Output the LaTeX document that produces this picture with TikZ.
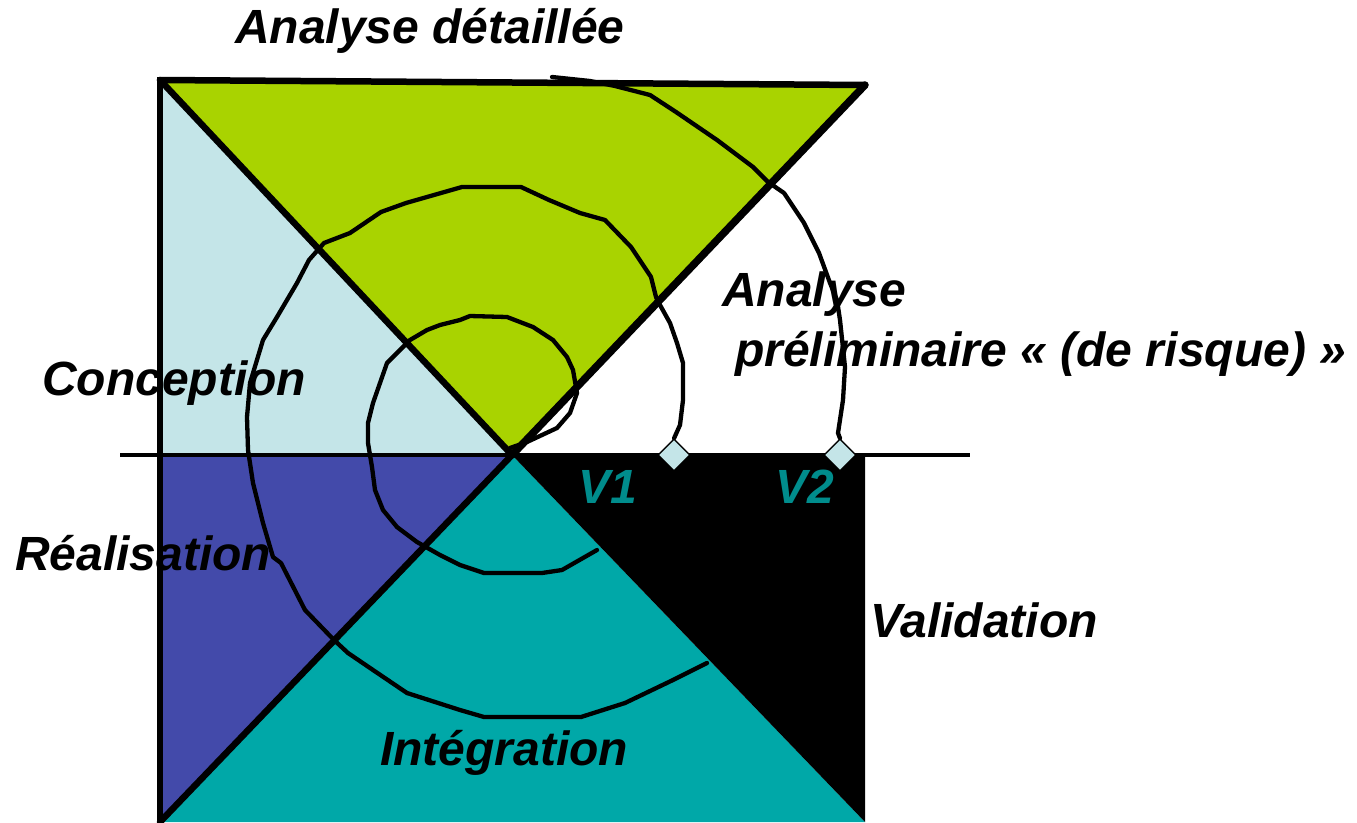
\documentclass[tikz,border=0pt]{standalone}
\usepackage{fontspec}
\setmainfont{Liberation Sans}
\usetikzlibrary{shapes.geometric}
\definecolor{cgreen}{RGB}{169,211,0}
\definecolor{clight}{RGB}{196,229,232}
\definecolor{cindigo}{RGB}{67,74,170}
\definecolor{cteal}{RGB}{0,168,168}
\definecolor{cvtext}{RGB}{0,140,140}
\begin{document}
\begin{tikzpicture}[x=1pt,y=-1pt,
  lbl/.style={anchor=base west,inner sep=0pt,font=\fontsize{48}{56}\selectfont\bfseries\itshape},
  vlbl/.style={lbl,text=cvtext},
  spiral/.style={line width=4.3pt,line join=round,line cap=round},
  thick edge/.style={line width=6.5pt,line cap=round,line join=round},
  marker/.style={diamond,draw=black,line width=1.2pt,fill=clight,minimum width=32pt,minimum height=32pt,inner sep=0pt}]
\useasboundingbox (0,0) rectangle (1357,822);
\coordinate (A) at (160,80);
\coordinate (B) at (865,85);
\coordinate (O) at (512,455);
\coordinate (L) at (160,455);
\coordinate (R) at (865,455);
\coordinate (BL) at (160,822);
\coordinate (BR) at (865,822);
\coordinate (HL) at (120,455);
\coordinate (HR) at (970,455);
% fills
\fill[clight] (A) -- (O) -- (L) -- cycle;
\fill[cgreen] (A) -- (B) -- (O) -- cycle;
\fill[cindigo] (L) -- (O) -- (BL) -- cycle;
\fill[cteal] (O) -- (BL) -- (BR) -- cycle;
\fill[black] (O) -- (R) -- (BR) -- cycle;
% spiral curves
\draw[spiral] (510,448) -- (527,442) -- (557,428) -- (570,413) -- (577,393) -- (573,370) -- (567,357) -- (553,340) -- (533,327) -- (507,317) -- (470,316) -- (460,320) -- (440,325) -- (427,330) -- (410,340) -- (397,353) -- (387,363) -- (380,383) -- (373,403) -- (368,423) -- (368,443) -- (372,467) -- (375,490) -- (383,510) -- (397,527) -- (417,542) -- (440,555) -- (460,565) -- (484,573) -- (542,573) -- (562,570) -- (597,550);
\node[marker] (v1m) at (674,455) {};
\node[marker] (v2m) at (840,455) {};
\draw[spiral] (v1m.north) -- (680,425) -- (683,400) -- (683,363) -- (677,343) -- (670,323) -- (660,305) -- (656,297) -- (651,277) -- (631,247) -- (605,220) -- (580,213) -- (549,200) -- (521,187) -- (462,187) -- (406,203) -- (381,212) -- (350,233) -- (324,243) -- (309,260) -- (297,283) -- (277,317) -- (263,340) -- (250,383) -- (247,417) -- (248,450) -- (253,483) -- (263,523) -- (273,557) -- (281,563) -- (305,610) -- (334,640) -- (348,653) -- (373,670) -- (407,693) -- (460,710) -- (484,717) -- (581,717) -- (625,703) -- (673,680) -- (707,663);
\draw[spiral] (v2m.north) -- (838,433) -- (843,400) -- (845,367) -- (840,320) -- (837,300) -- (830,283) -- (819,253) -- (804,223) -- (784,193) -- (768,182) -- (753,167) -- (717,140) -- (676,112) -- (650,95) -- (615,86) -- (590,81) -- (552,77);
% structure lines
\draw[line width=4pt] (HL) -- (HR);
\draw[line width=6pt] (160,77) -- (BL);
\draw[thick edge] (A) -- (B);
\draw[thick edge] (A) -- (O);
\draw[thick edge,line width=7.5pt] (B) -- (O);
\draw[thick edge] (O) -- (BL);
\node[marker] at (v1m) {};
\node[marker] at (v2m) {};
% labels
\node[lbl] (tad) at (235,43) {Analyse détaillée};
\node[lbl] (tcon) at (42,395) {Conception};
\node[lbl] (tap1) at (722,306) {Analyse};
\node[lbl] (tap2) at (735,366) {préliminaire « (de risque) »};
\node[lbl] (trea) at (15,570) {Réalisation};
\node[lbl] (tval) at (870,637) {Validation};
\node[lbl] (tint) at (380,765) {Intégration};
\node[vlbl] (tv1) at (578,503) {V1};
\node[vlbl] (tv2) at (775,503) {V2};
\end{tikzpicture}
\end{document}
